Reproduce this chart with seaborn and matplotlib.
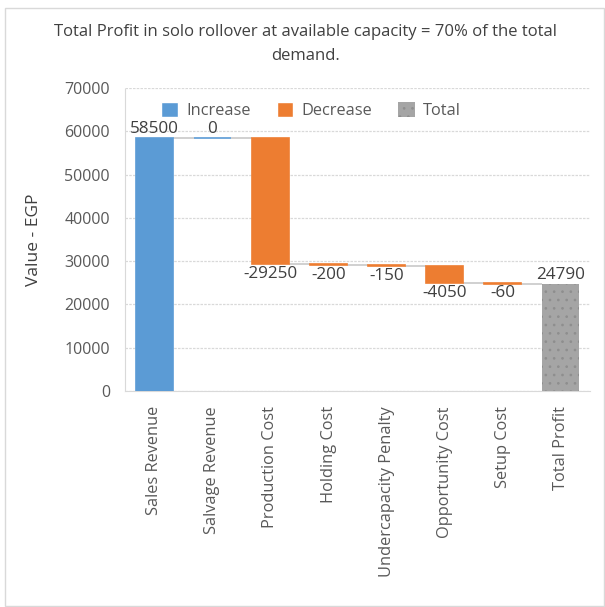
import matplotlib
matplotlib.use("Agg")
import matplotlib.pyplot as plt
from matplotlib.patches import Rectangle, Patch
import seaborn as sns
import pandas as pd

categories = ["Sales Revenue", "Salvage Revenue", "Production Cost", "Holding Cost",
              "Undercapacity Penalty", "Opportunity Cost", "Setup Cost", "Total Profit"]
values = [58500, 0, -29250, -200, -150, -4050, -60, 24790]
kinds = ["Increase", "Increase", "Decrease", "Decrease", "Decrease", "Decrease", "Decrease", "Total"]
y_ticks = [0, 10000, 20000, 30000, 40000, 50000, 60000, 70000]

colors = {"Increase": "#5B9BD5", "Decrease": "#ED7D31", "Total": "#A5A5A5"}
text_gray = "#595959"
dot_gray = "#8e8e8e"

# running levels for the waterfall
starts, ends = [], []
level = 0
for v, k in zip(values, kinds):
    if k == "Total":
        starts.append(0)
        ends.append(v)
        level = v
    else:
        starts.append(level)
        level += v
        ends.append(level)
bases = [min(s, e) for s, e in zip(starts, ends)]
heights = [abs(e - s) for s, e in zip(starts, ends)]

df = pd.DataFrame({"cat": categories, "height": heights, "kind": kinds})

sns.set_style("white")
plt.rcParams["font.family"] = ["Open Sans", "DejaVu Sans"]
plt.rcParams["hatch.linewidth"] = 0.7

fig = plt.figure(figsize=(6.05, 6.07), dpi=100)
fig.patches.append(Rectangle((0.008, 0.002), 0.99, 0.985, transform=fig.transFigure,
                             fill=False, edgecolor="#d9d9d9", linewidth=1.0))
ax = fig.add_axes([0.207, 0.356, 0.768, 0.499])

bar_w = 0.64
sns.barplot(data=df, x="cat", y="height", hue="kind", palette=colors, dodge=False,
            width=bar_w, order=categories, hue_order=["Increase", "Decrease", "Total"],
            legend=False, ax=ax, saturation=1, zorder=3)

# lift each bar onto its running base
for p in ax.patches:
    idx = int(round(p.get_x() + p.get_width() / 2))
    p.set_y(bases[idx])
    col = colors[kinds[idx]]
    if kinds[idx] == "Total":
        p.set_hatch("..")
        p.set_edgecolor(dot_gray)
        p.set_linewidth(0)
    else:
        p.set_edgecolor(col)
        p.set_linewidth(1.2)

# connector lines between consecutive bars
half = bar_w / 2
for i in range(len(categories) - 1):
    ax.hlines(ends[i], i + half, i + 1 - half, colors="#c8c8c8", linewidth=1.2, zorder=2)

# value labels
for i, v in enumerate(values):
    if v >= 0:
        ax.text(i, max(starts[i], ends[i]) + 200, f"{v}", ha="center", va="bottom",
                fontsize=12.3, color="#404040")
    else:
        ax.text(i, bases[i] - 400, f"{v}", ha="center", va="top",
                fontsize=12.3, color="#404040")

ax.set_ylim(0, 70000)
ax.set_xlim(-0.5, len(categories) - 0.5)
ax.set_yticks(y_ticks)
ax.set_yticklabels([str(t) for t in y_ticks], fontsize=11.5, color=text_gray)
ax.set_xticks(range(len(categories)))
ax.set_xticklabels(categories, rotation=90, fontsize=11.8, color=text_gray)
ax.tick_params(axis="y", length=0, pad=11)
ax.tick_params(axis="x", length=0, pad=11)
ax.set_xlabel("")
ax.set_ylabel("Value - EGP", fontsize=12.5, color="#404040", labelpad=16)
ax.yaxis.grid(True, color="#d9d9d9", linestyle=(0, (2, 1)), linewidth=0.9, zorder=0)
ax.set_axisbelow(True)
for side in ["top", "right"]:
    ax.spines[side].set_visible(False)
ax.spines["left"].set_color("#d9d9d9")
ax.spines["left"].set_linestyle((0, (2, 1)))
ax.spines["bottom"].set_color("#d9d9d9")

handles = [Patch(facecolor=colors["Increase"]), Patch(facecolor=colors["Decrease"]),
           Patch(facecolor=colors["Total"], hatch="..", edgecolor=dot_gray, linewidth=0)]
ax.legend(handles, ["Increase", "Decrease", "Total"], ncol=3, frameon=False,
          loc="center", bbox_to_anchor=(0.40, 0.925), fontsize=11.8,
          labelcolor=text_gray, handlelength=1.0, handleheight=1.0,
          columnspacing=1.6, handletextpad=0.5)

fig.text(0.505, 0.947, "Total Profit in solo rollover at available capacity = 70% of the total",
         ha="center", va="center", fontsize=12, color="#404040")
fig.text(0.505, 0.907, "demand.", ha="center", va="center", fontsize=12, color="#404040")

fig.savefig("out.png", dpi=100)
